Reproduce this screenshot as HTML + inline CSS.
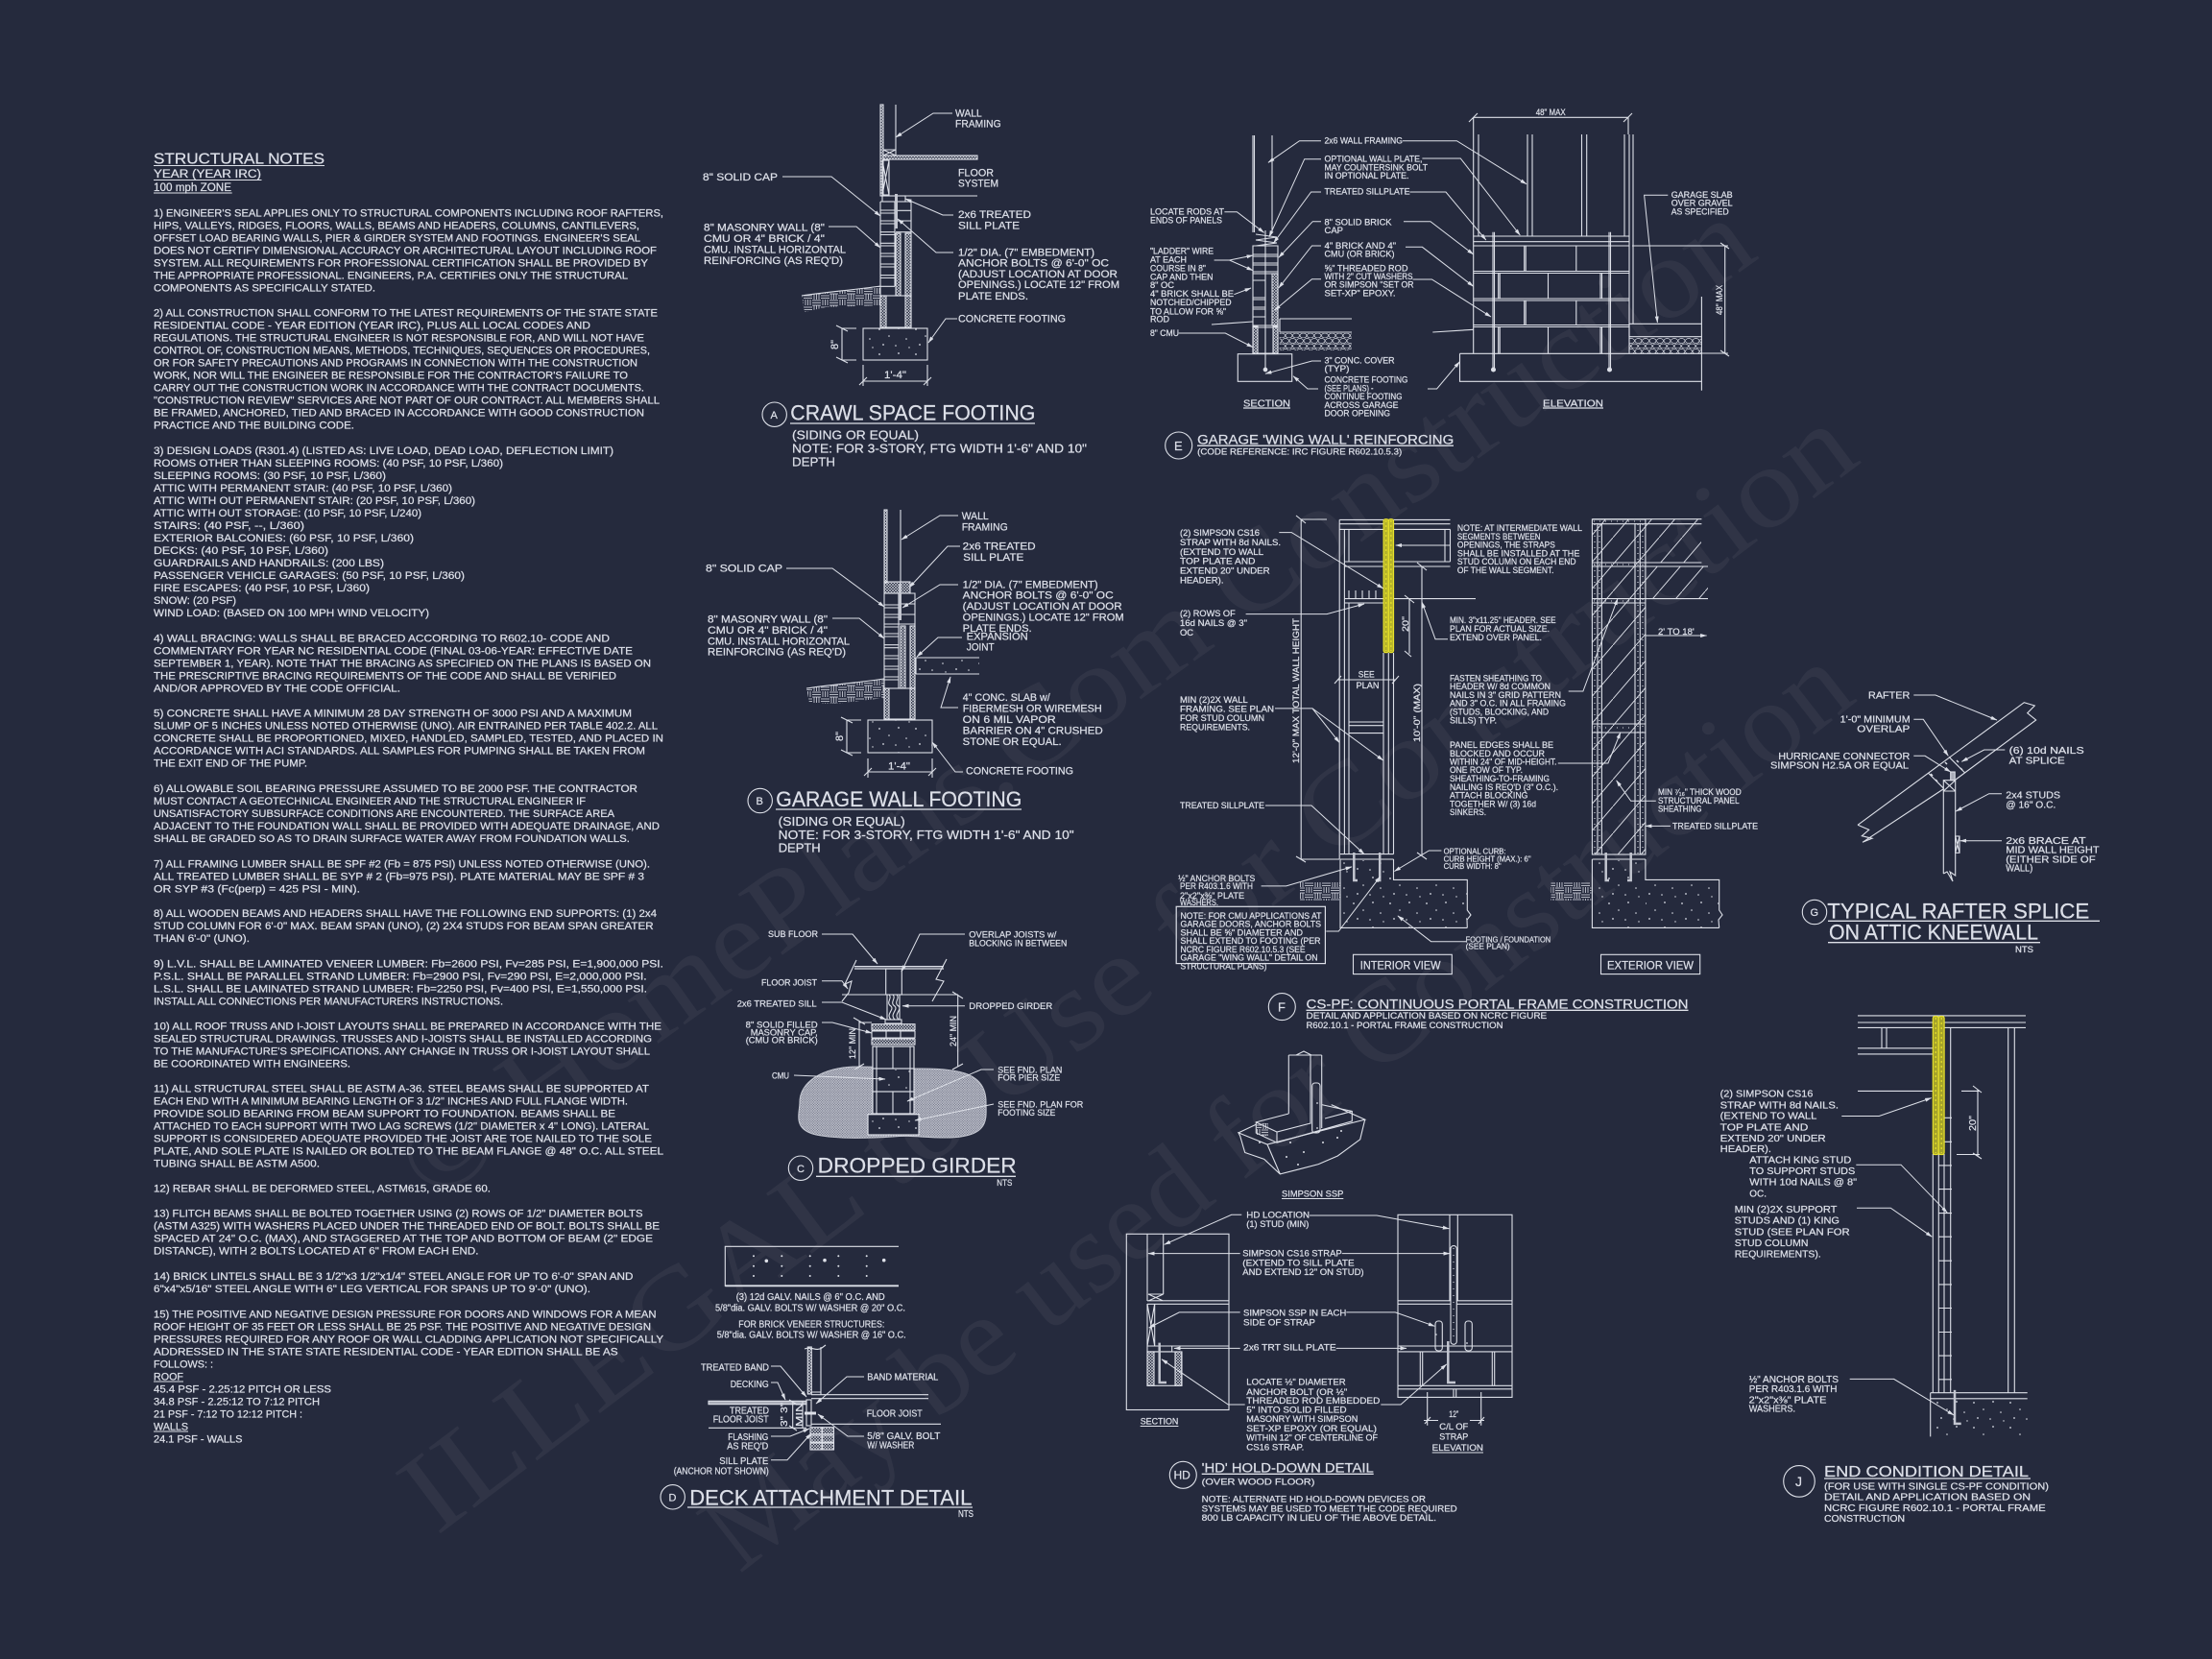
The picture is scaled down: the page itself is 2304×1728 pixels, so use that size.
<!DOCTYPE html>
<html><head><meta charset="utf-8"><title>Structural Notes and Details</title>
<style>html,body{margin:0;padding:0;background:#252a3d}svg{display:block}text{font-family:"Liberation Sans",sans-serif;fill:#dcdfe8;stroke:#dcdfe8;stroke-width:.25}.wm text{font-family:"Liberation Serif",serif;fill:#fff;fill-opacity:.05;stroke:none}</style></head>
<body>
<svg xmlns="http://www.w3.org/2000/svg" width="2304" height="1728" viewBox="0 0 2304 1728">
<defs>
<pattern id="h" width="3" height="3" patternUnits="userSpaceOnUse"><path d="M0 3L3 0M0 0L3 3" stroke="#dde0e8" stroke-width=".6"/></pattern>
<pattern id="x" width="2.6" height="2.6" patternUnits="userSpaceOnUse"><rect width="2.6" height="2.6" fill="#6d7082"/><path d="M0 2.6L2.6 0M0 0L2.6 2.6" stroke="#d0d3dc" stroke-width=".55"/></pattern>
<pattern id="e" width="18" height="12" patternUnits="userSpaceOnUse"><path d="M0 1H9M0 3.5H9M0 6H9M11 0V6M13.5 0V6M16 0V6M2 6V12M4.5 6V12M7 6V12M9 8H18M9 10.500H18" stroke="#e4e6ee" stroke-width=".75" fill="none"/></pattern>
<pattern id="d" width="38" height="26" patternUnits="userSpaceOnUse"><g fill="#dde0e8"><circle cx="4" cy="5" r=".9"/><circle cx="14" cy="12" r=".8"/><circle cx="24" cy="4" r=".9"/><circle cx="32" cy="15" r=".8"/><circle cx="8" cy="21" r=".9"/><circle cx="21" cy="22" r=".8"/><circle cx="35" cy="24" r=".7"/></g></pattern>
<pattern id="g" width="15" height="11" patternUnits="userSpaceOnUse"><g fill="none" stroke="#dde0e8" stroke-width=".7"><ellipse cx="4" cy="3" rx="3.500" ry="2.500"/><ellipse cx="11.500" cy="3" rx="3.500" ry="2.500"/><ellipse cx="0" cy="8.500" rx="3.500" ry="2.500"/><ellipse cx="7.500" cy="8.500" rx="3.500" ry="2.500"/><ellipse cx="15" cy="8.500" rx="3.500" ry="2.500"/></g></pattern>
<pattern id="s" width="24" height="28" patternUnits="userSpaceOnUse"><path d="M0 28L24 0" stroke="#dde0e8" stroke-width=".9"/></pattern>
<marker id="a" markerWidth="7" markerHeight="5" refX="6.500" refY="2.500" orient="auto" markerUnits="userSpaceOnUse"><path d="M0 .5L7 2.500L0 4.500z" fill="#dde0e8"/></marker>
</defs>
<rect width="2304" height="1728" fill="#252a3d"/>

<g class="wm" font-size="120">
<text transform="translate(450 1255) rotate(-35.500)" textLength="1700" lengthAdjust="spacingAndGlyphs">© HomePlans.Com Construction</text>
<text transform="translate(455 1600) rotate(-37)" textLength="1860" lengthAdjust="spacingAndGlyphs">ILLEGAL to Use for Construction</text>
<text transform="translate(770 1640) rotate(-38)" textLength="1480" lengthAdjust="spacingAndGlyphs">May be used for Construction</text>
</g>

<!-- STRUCTURAL NOTES -->
<g font-size="10.800">
<text x="160" y="170.700" font-size="15.500" textLength="178" lengthAdjust="spacingAndGlyphs">STRUCTURAL NOTES</text>
<text x="160" y="185" font-size="11.500" textLength="112" lengthAdjust="spacingAndGlyphs">YEAR  (YEAR IRC)</text>
<text x="160" y="199" font-size="11.500" textLength="81" lengthAdjust="spacingAndGlyphs">100 mph ZONE</text>
<text x="160" y="225.300" textLength="531" lengthAdjust="spacingAndGlyphs">1) ENGINEER'S SEAL APPLIES ONLY TO STRUCTURAL COMPONENTS INCLUDING ROOF RAFTERS,</text>
<text x="160" y="238.300" textLength="506" lengthAdjust="spacingAndGlyphs">HIPS, VALLEYS, RIDGES, FLOORS, WALLS, BEAMS AND HEADERS, COLUMNS, CANTILEVERS,</text>
<text x="160" y="251.300" textLength="507" lengthAdjust="spacingAndGlyphs">OFFSET LOAD BEARING WALLS, PIER &amp; GIRDER SYSTEM AND FOOTINGS. ENGINEER'S SEAL</text>
<text x="160" y="264.300" textLength="524" lengthAdjust="spacingAndGlyphs">DOES NOT CERTIFY DIMENSIONAL ACCURACY OR ARCHITECTURAL LAYOUT INCLUDING ROOF</text>
<text x="160" y="277.300" textLength="515" lengthAdjust="spacingAndGlyphs">SYSTEM. ALL REQUIREMENTS FOR PROFESSIONAL CERTIFICATION SHALL BE PROVIDED BY</text>
<text x="160" y="290.300" textLength="494" lengthAdjust="spacingAndGlyphs">THE APPROPRIATE PROFESSIONAL.  ENGINEERS, P.A. CERTIFIES ONLY THE STRUCTURAL</text>
<text x="160" y="303.300" textLength="231" lengthAdjust="spacingAndGlyphs">COMPONENTS AS SPECIFICALLY STATED.</text>
<text x="160" y="329.300" textLength="525" lengthAdjust="spacingAndGlyphs">2) ALL CONSTRUCTION SHALL CONFORM TO THE LATEST REQUIREMENTS OF THE STATE STATE</text>
<text x="160" y="342.300" textLength="455" lengthAdjust="spacingAndGlyphs">RESIDENTIAL CODE - YEAR EDITION (YEAR IRC), PLUS ALL LOCAL CODES AND</text>
<text x="160" y="355.300" textLength="511" lengthAdjust="spacingAndGlyphs">REGULATIONS. THE STRUCTURAL ENGINEER IS NOT RESPONSIBLE FOR, AND WILL NOT HAVE</text>
<text x="160" y="368.300" textLength="517" lengthAdjust="spacingAndGlyphs">CONTROL OF, CONSTRUCTION MEANS, METHODS, TECHNIQUES, SEQUENCES OR PROCEDURES,</text>
<text x="160" y="381.300" textLength="504" lengthAdjust="spacingAndGlyphs">OR FOR SAFETY PRECAUTIONS AND PROGRAMS IN CONNECTION WITH THE CONSTRUCTION</text>
<text x="160" y="394.300" textLength="494" lengthAdjust="spacingAndGlyphs">WORK, NOR WILL THE ENGINEER BE RESPONSIBLE FOR THE CONTRACTOR'S FAILURE TO</text>
<text x="160" y="407.300" textLength="511" lengthAdjust="spacingAndGlyphs">CARRY OUT THE CONSTRUCTION WORK IN ACCORDANCE WITH THE CONTRACT DOCUMENTS.</text>
<text x="160" y="420.300" textLength="527" lengthAdjust="spacingAndGlyphs">"CONSTRUCTION REVIEW" SERVICES ARE NOT PART OF OUR CONTRACT. ALL MEMBERS SHALL</text>
<text x="160" y="433.300" textLength="511" lengthAdjust="spacingAndGlyphs">BE FRAMED, ANCHORED, TIED AND BRACED IN ACCORDANCE WITH GOOD CONSTRUCTION</text>
<text x="160" y="446.300" textLength="209" lengthAdjust="spacingAndGlyphs">PRACTICE AND THE BUILDING CODE.</text>
<text x="160" y="473" textLength="479" lengthAdjust="spacingAndGlyphs">3) DESIGN LOADS (R301.4) (LISTED AS: LIVE LOAD, DEAD LOAD, DEFLECTION LIMIT)</text>
<text x="160" y="486" textLength="364" lengthAdjust="spacingAndGlyphs">ROOMS OTHER THAN SLEEPING ROOMS: (40 PSF, 10 PSF, L/360)</text>
<text x="160" y="499" textLength="242" lengthAdjust="spacingAndGlyphs">SLEEPING ROOMS: (30 PSF, 10 PSF, L/360)</text>
<text x="160" y="512" textLength="311" lengthAdjust="spacingAndGlyphs">ATTIC WITH PERMANENT STAIR: (40 PSF, 10 PSF, L/360)</text>
<text x="160" y="525" textLength="335" lengthAdjust="spacingAndGlyphs">ATTIC WITH OUT PERMANENT STAIR: (20 PSF, 10 PSF, L/360)</text>
<text x="160" y="538" textLength="279" lengthAdjust="spacingAndGlyphs">ATTIC WITH OUT STORAGE: (10 PSF, 10 PSF, L/240)</text>
<text x="160" y="551" textLength="157" lengthAdjust="spacingAndGlyphs">STAIRS: (40 PSF, --, L/360)</text>
<text x="160" y="564" textLength="271" lengthAdjust="spacingAndGlyphs">EXTERIOR BALCONIES: (60 PSF, 10 PSF, L/360)</text>
<text x="160" y="577" textLength="182" lengthAdjust="spacingAndGlyphs">DECKS: (40 PSF, 10 PSF, L/360)</text>
<text x="160" y="590" textLength="240" lengthAdjust="spacingAndGlyphs">GUARDRAILS AND HANDRAILS: (200 LBS)</text>
<text x="160" y="603" textLength="324" lengthAdjust="spacingAndGlyphs">PASSENGER VEHICLE GARAGES: (50 PSF, 10 PSF, L/360)</text>
<text x="160" y="616" textLength="225" lengthAdjust="spacingAndGlyphs">FIRE ESCAPES: (40 PSF, 10 PSF, L/360)</text>
<text x="160" y="629" textLength="86" lengthAdjust="spacingAndGlyphs">SNOW: (20 PSF)</text>
<text x="160" y="642" textLength="287" lengthAdjust="spacingAndGlyphs">WIND LOAD: (BASED ON 100 MPH WIND VELOCITY)</text>
<text x="160" y="668.700" textLength="475" lengthAdjust="spacingAndGlyphs">4) WALL BRACING: WALLS SHALL BE BRACED ACCORDING TO R602.10- CODE AND</text>
<text x="160" y="681.700" textLength="499" lengthAdjust="spacingAndGlyphs">COMMENTARY FOR YEAR NC RESIDENTIAL CODE (FINAL 03-06-YEAR: EFFECTIVE DATE</text>
<text x="160" y="694.700" textLength="518" lengthAdjust="spacingAndGlyphs">SEPTEMBER 1, YEAR). NOTE THAT THE BRACING AS SPECIFIED ON THE PLANS IS BASED ON</text>
<text x="160" y="707.700" textLength="482" lengthAdjust="spacingAndGlyphs">THE PRESCRIPTIVE BRACING REQUIREMENTS OF THE CODE AND SHALL BE VERIFIED</text>
<text x="160" y="720.700" textLength="257" lengthAdjust="spacingAndGlyphs">AND/OR APPROVED BY THE CODE OFFICIAL.</text>
<text x="160" y="746.700" textLength="498" lengthAdjust="spacingAndGlyphs">5) CONCRETE SHALL HAVE A MINIMUM 28 DAY STRENGTH OF 3000 PSI AND A MAXIMUM</text>
<text x="160" y="759.700" textLength="525" lengthAdjust="spacingAndGlyphs">SLUMP OF 5 INCHES UNLESS NOTED OTHERWISE (UNO). AIR ENTRAINED PER TABLE 402.2. ALL</text>
<text x="160" y="772.700" textLength="531" lengthAdjust="spacingAndGlyphs">CONCRETE SHALL BE PROPORTIONED, MIXED, HANDLED, SAMPLED, TESTED, AND PLACED IN</text>
<text x="160" y="785.700" textLength="512" lengthAdjust="spacingAndGlyphs">ACCORDANCE WITH ACI STANDARDS. ALL SAMPLES FOR PUMPING SHALL BE TAKEN FROM</text>
<text x="160" y="798.700" textLength="160" lengthAdjust="spacingAndGlyphs">THE EXIT END OF THE PUMP.</text>
<text x="160" y="825" textLength="504" lengthAdjust="spacingAndGlyphs">6) ALLOWABLE SOIL BEARING PRESSURE ASSUMED TO BE 2000 PSF. THE CONTRACTOR</text>
<text x="160" y="838" textLength="450" lengthAdjust="spacingAndGlyphs">MUST CONTACT A GEOTECHNICAL ENGINEER AND THE STRUCTURAL ENGINEER IF</text>
<text x="160" y="851" textLength="480" lengthAdjust="spacingAndGlyphs">UNSATISFACTORY SUBSURFACE CONDITIONS ARE ENCOUNTERED. THE SURFACE AREA</text>
<text x="160" y="864" textLength="527" lengthAdjust="spacingAndGlyphs">ADJACENT TO THE FOUNDATION WALL SHALL BE PROVIDED WITH ADEQUATE DRAINAGE, AND</text>
<text x="160" y="877" textLength="496" lengthAdjust="spacingAndGlyphs">SHALL BE GRADED SO AS TO DRAIN SURFACE WATER AWAY FROM FOUNDATION WALLS.</text>
<text x="160" y="903.300" textLength="517" lengthAdjust="spacingAndGlyphs">7) ALL FRAMING LUMBER SHALL BE SPF #2 (Fb = 875 PSI) UNLESS NOTED OTHERWISE (UNO).</text>
<text x="160" y="916.300" textLength="511" lengthAdjust="spacingAndGlyphs">ALL TREATED LUMBER SHALL BE SYP # 2 (Fb=975 PSI). PLATE MATERIAL MAY BE SPF # 3</text>
<text x="160" y="929.300" textLength="215" lengthAdjust="spacingAndGlyphs">OR SYP #3 (Fc(perp) = 425 PSI - MIN).</text>
<text x="160" y="955" textLength="524" lengthAdjust="spacingAndGlyphs">8) ALL WOODEN BEAMS AND HEADERS SHALL HAVE THE FOLLOWING END SUPPORTS: (1) 2x4</text>
<text x="160" y="968" textLength="520.600" lengthAdjust="spacingAndGlyphs">STUD COLUMN FOR 6'-0" MAX. BEAM SPAN (UNO), (2) 2X4 STUDS FOR BEAM SPAN GREATER</text>
<text x="160" y="981" textLength="100" lengthAdjust="spacingAndGlyphs">THAN 6'-0" (UNO).</text>
<text x="160" y="1007.300" textLength="531" lengthAdjust="spacingAndGlyphs">9) L.V.L.  SHALL BE LAMINATED VENEER LUMBER: Fb=2600 PSI, Fv=285 PSI, E=1,900,000 PSI.</text>
<text x="160" y="1020.300" textLength="513.600" lengthAdjust="spacingAndGlyphs">P.S.L. SHALL BE PARALLEL STRAND LUMBER: Fb=2900 PSI, Fv=290 PSI, E=2,000,000 PSI.</text>
<text x="160" y="1033.300" textLength="514" lengthAdjust="spacingAndGlyphs">L.S.L.  SHALL BE LAMINATED STRAND LUMBER: Fb=2250 PSI, Fv=400 PSI, E=1,550,000 PSI.</text>
<text x="160" y="1046.300" textLength="364" lengthAdjust="spacingAndGlyphs">INSTALL ALL CONNECTIONS PER MANUFACTURERS INSTRUCTIONS.</text>
<text x="160" y="1072.700" textLength="529" lengthAdjust="spacingAndGlyphs">10) ALL ROOF TRUSS AND I-JOIST LAYOUTS SHALL BE PREPARED IN ACCORDANCE WITH THE</text>
<text x="160" y="1085.700" textLength="519" lengthAdjust="spacingAndGlyphs">SEALED STRUCTURAL DRAWINGS. TRUSSES AND I-JOISTS SHALL BE INSTALLED ACCORDING</text>
<text x="160" y="1098.700" textLength="517" lengthAdjust="spacingAndGlyphs">TO THE MANUFACTURE'S SPECIFICATIONS. ANY CHANGE IN TRUSS OR I-JOIST LAYOUT SHALL</text>
<text x="160" y="1111.700" textLength="205" lengthAdjust="spacingAndGlyphs">BE COORDINATED WITH  ENGINEERS.</text>
<text x="160" y="1137.700" textLength="516" lengthAdjust="spacingAndGlyphs">11) ALL STRUCTURAL STEEL SHALL BE ASTM A-36. STEEL BEAMS SHALL BE SUPPORTED AT</text>
<text x="160" y="1150.700" textLength="494" lengthAdjust="spacingAndGlyphs">EACH END WITH A MINIMUM BEARING LENGTH OF 3 1/2" INCHES AND FULL FLANGE WIDTH.</text>
<text x="160" y="1163.700" textLength="481" lengthAdjust="spacingAndGlyphs">PROVIDE SOLID BEARING FROM BEAM SUPPORT TO FOUNDATION.  BEAMS SHALL BE</text>
<text x="160" y="1176.700" textLength="516" lengthAdjust="spacingAndGlyphs">ATTACHED TO EACH SUPPORT WITH TWO LAG SCREWS (1/2" DIAMETER x 4" LONG). LATERAL</text>
<text x="160" y="1189.700" textLength="519" lengthAdjust="spacingAndGlyphs">SUPPORT IS CONSIDERED ADEQUATE PROVIDED THE JOIST ARE TOE NAILED TO THE SOLE</text>
<text x="160" y="1202.700" textLength="531" lengthAdjust="spacingAndGlyphs">PLATE, AND SOLE PLATE IS NAILED OR BOLTED TO THE BEAM FLANGE @ 48" O.C. ALL STEEL</text>
<text x="160" y="1215.700" textLength="173" lengthAdjust="spacingAndGlyphs">TUBING SHALL BE ASTM A500.</text>
<text x="160" y="1241.700" textLength="351" lengthAdjust="spacingAndGlyphs">12) REBAR SHALL BE DEFORMED STEEL, ASTM615, GRADE 60.</text>
<text x="160" y="1267.700" textLength="509.500" lengthAdjust="spacingAndGlyphs">13) FLITCH BEAMS SHALL BE BOLTED TOGETHER USING (2) ROWS OF 1/2" DIAMETER BOLTS</text>
<text x="160" y="1280.700" textLength="527" lengthAdjust="spacingAndGlyphs">(ASTM A325) WITH WASHERS PLACED UNDER THE THREADED END OF BOLT. BOLTS SHALL BE</text>
<text x="160" y="1293.700" textLength="520" lengthAdjust="spacingAndGlyphs">SPACED AT 24" O.C. (MAX), AND STAGGERED AT THE TOP AND BOTTOM OF BEAM (2" EDGE</text>
<text x="160" y="1306.700" textLength="338.500" lengthAdjust="spacingAndGlyphs">DISTANCE), WITH 2 BOLTS LOCATED AT 6" FROM EACH END.</text>
<text x="160" y="1333" textLength="499.500" lengthAdjust="spacingAndGlyphs">14) BRICK LINTELS SHALL BE 3 1/2"x3 1/2"x1/4" STEEL ANGLE FOR UP TO 6'-0" SPAN AND</text>
<text x="160" y="1346" textLength="455" lengthAdjust="spacingAndGlyphs">6"x4"x5/16" STEEL ANGLE WITH 6" LEG VERTICAL FOR SPANS UP TO 9'-0" (UNO).</text>
<text x="160" y="1372.300" textLength="523.500" lengthAdjust="spacingAndGlyphs">15) THE POSITIVE AND NEGATIVE DESIGN PRESSURE FOR DOORS AND WINDOWS FOR A MEAN</text>
<text x="160" y="1385.300" textLength="518" lengthAdjust="spacingAndGlyphs">ROOF HEIGHT OF 35 FEET OR LESS SHALL BE 25 PSF. THE POSITIVE AND NEGATIVE DESIGN</text>
<text x="160" y="1398.300" textLength="531" lengthAdjust="spacingAndGlyphs">PRESSURES REQUIRED FOR ANY ROOF OR WALL CLADDING APPLICATION NOT SPECIFICALLY</text>
<text x="160" y="1411.300" textLength="483.600" lengthAdjust="spacingAndGlyphs">ADDRESSED IN THE STATE STATE RESIDENTIAL CODE - YEAR EDITION SHALL BE AS</text>
<text x="160" y="1424.300" textLength="62" lengthAdjust="spacingAndGlyphs">FOLLOWS: :</text>
<text x="160" y="1437.300" textLength="31" lengthAdjust="spacingAndGlyphs">ROOF</text>
<text x="160" y="1450.300" textLength="185" lengthAdjust="spacingAndGlyphs">45.4 PSF - 2.25:12 PITCH OR LESS</text>
<text x="160" y="1463.300" textLength="173" lengthAdjust="spacingAndGlyphs">34.8 PSF - 2.25:12 TO 7:12 PITCH</text>
<text x="160" y="1476.300" textLength="155" lengthAdjust="spacingAndGlyphs">21 PSF - 7:12 TO 12:12 PITCH :</text>
<text x="160" y="1489.300" textLength="36" lengthAdjust="spacingAndGlyphs">WALLS</text>
<text x="160" y="1502.300" textLength="92.500" lengthAdjust="spacingAndGlyphs">24.1 PSF - WALLS</text>
</g>
<path d="M160 172.500H338M160 187.500H272.500M160 201H241.700M160 1439H191M160 1491H196" stroke="#dde0e8" fill="none"/>

<!-- drawing geometry -->
<g fill="none" stroke="#dde0e8" stroke-width="1.100">
<!-- A -->
<rect x="917" y="109" width="3" height="95" fill="url(#h)"/>
<path d="M933 109V162M920 156H933M920 162L933 156M920 156L933 162"/>
<rect x="920" y="162" width="98" height="4" fill="url(#h)"/>
<rect x="919" y="167" width="7" height="36"/><path d="M919 167L926 203M926 167L919 203M933 204H1018"/>
<rect x="919" y="204" width="24" height="6"/>
<path d="M917 210H949V308M917 210V308M932 210V298M917 219H932M917 222H932M917 230H932M917 233H932M917 241.700H932M917 244.500H932M917 253.300H932M917 256H932M917 264H932M917 267H932M917 275H932M917 278H932M917 286.700H932M917 289.500H932M917 298.300H932M933 219.300H949M933 230H949M933 241.700H949"/>
<rect x="933" y="243" width="5" height="65" fill="url(#h)"/><rect x="943" y="243" width="6" height="65" fill="url(#h)"/>
<path d="M933.500 202V238" stroke="#c3c6d0" stroke-width="3"/>
<rect x="917" y="308" width="32" height="33"/><rect x="917" y="308" width="6" height="33" fill="url(#h)"/><rect x="943" y="308" width="6" height="33" fill="url(#h)"/>
<rect x="899" y="342" width="67" height="33" fill="url(#d)"/>
<path d="M835 308L917 298V318L860 320L838 325Z" fill="url(#e)" stroke="none"/><path d="M835 308C860 304 890 302 917 298"/>
<path d="M877 342V375M871 339L883 345M871 372L883 378M877 342H892M877 375H892M899 380V402M966 380V402M899 397H966M895 401L903 393M962 401L970 393"/>
<!-- B -->
<rect x="921" y="531" width="3" height="76" fill="url(#h)"/>
<path d="M938 531V610"/><rect x="921" y="606" width="27" height="12" fill="url(#h)"/>
<path d="M921 618H953V717M921 618V717M936 618V717M921 630H936M921 633H936M921 640H936M921 643H936M921 650H936M921 653H936M921 660H936M921 663H936M921 671.700H936M921 674.700H936M921 683H936M921 686H936M921 694H936M921 697H936M921 705H936M921 708H936M936 629H953M936 640H953M936 650H953"/>
<rect x="938" y="652" width="5" height="65" fill="url(#h)"/><rect x="948" y="652" width="5" height="65" fill="url(#h)"/>
<path d="M937.500 608V646" stroke="#c3c6d0" stroke-width="3"/>
<rect x="921" y="717" width="32" height="32"/><rect x="921" y="717" width="5" height="32" fill="url(#h)"/><rect x="948" y="717" width="5" height="32" fill="url(#h)"/>
<rect x="904" y="750" width="67" height="34" fill="url(#d)"/>
<path d="M954 685H1020M954 702H1020M954 685V702"/><rect x="955" y="686" width="65" height="15" fill="url(#d)" stroke="none"/>
<path d="M840 717L921 707V727L870 733L843 732Z" fill="url(#e)" stroke="none"/><path d="M840 717C865 713 895 711 921 707"/>
<path d="M882 750V784M876 747L888 753M876 781L888 787M882 750H897M882 784H897M904 790V810M971 790V810M904 804H971M900 808L908 800M967 808L975 800"/>
<!-- C -->
<path d="M890 1006.700H983M890 1009H983" stroke-width="1.300"/>
<path d="M877 1036H983M892 1000L880 1025L887 1022L884 1034L877 1043M986 999L975 1020L983 1022L976 1034L971 1043"/>
<rect x="922.700" y="1009" width="16.600" height="27"/>
<path d="M926 1036C930 1040 922 1044 928 1048C932 1052 922 1056 928 1062M930 1036C934 1040 926 1044 932 1048C936 1052 926 1056 932 1062M934 1036C938 1040 930 1044 936 1048C940 1052 930 1056 936 1062"/>
<path d="M924 1036V1062M937 1036V1062"/>
<rect x="922" y="1062" width="17" height="4"/>
<path d="M833 1148C833 1128 855 1111 895 1111C925 1111 930 1113 960 1113C1000 1113 1027 1118 1027 1148C1027 1165 1032 1185 985 1185C960 1185 950 1182 930 1184C900 1186 870 1186 850 1182C825 1176 833 1160 833 1148Z" fill="url(#x)" stroke="#c3c6d0"/>
<rect x="909" y="1090" width="43" height="70" fill="#252a3d"/>
<rect x="908" y="1066.700" width="45" height="6.300" fill="url(#h)"/>
<path d="M908 1074H953M908 1081H953M908 1074V1081M953 1074V1081M923 1074V1081M938 1074V1081"/>
<rect x="908" y="1082" width="45" height="6" fill="url(#h)"/>
<rect x="909" y="1090" width="43" height="23"/><rect x="909" y="1113" width="43" height="24"/><rect x="909" y="1137" width="43" height="23"/>
<path d="M930 1090V1113M930 1137V1160M913 1090V1160M948 1090V1160"/>
<rect x="904" y="1160.700" width="53" height="21.300" fill="#252a3d"/><rect x="904" y="1160.700" width="53" height="21.300" fill="url(#d)"/>
<rect x="909" y="1114" width="43" height="22" fill="url(#d)" stroke="none"/>
<path d="M895 1063V1111M889 1060L901 1067M890 1114L900 1108M895 1065H908M997.700 1036V1111M992 1033L1003 1040M992 1114L1003 1108M977 1036H998"/>
<!-- D -->
<path d="M936 1298.300H755.300V1339.300H936" /><path d="M755.300 1339.300H936" stroke-width="1.800"/>
<rect x="841.300" y="1403" width="4" height="49" fill="url(#h)"/>
<path d="M855 1403V1453M838 1405C845 1402 850 1408 856 1404L860 1401"/>
<path d="M845 1450H855M845 1452.700H967M845 1456.700H967M845 1483.300H980M738 1487.300H840"/>
<rect x="738" y="1459.300" width="102" height="3.400" fill="#a8abb7"/>
<rect x="840" y="1458" width="5" height="27"/><path d="M838 1472H850" stroke-width="3"/>
<rect x="844" y="1486.700" width="12" height="7" fill="url(#h)"/><rect x="856.500" y="1486.700" width="12" height="7" fill="url(#h)"/><rect x="844" y="1495" width="12" height="7" fill="url(#h)"/><rect x="856.500" y="1495" width="12" height="7" fill="url(#h)"/><rect x="844" y="1503" width="12" height="7" fill="url(#h)"/><rect x="856.500" y="1503" width="12" height="7" fill="url(#h)"/>
<path d="M825.700 1460V1487M836 1460V1487M822 1458L830 1463M822 1485L830 1490"/>
<!-- E section -->
<path d="M1305 141V242M1306.500 141V242M1325 141V242"/>
<path d="M1308 244L1330 247L1308 250L1330 253L1308 256"/>
<path d="M1305 256H1331V368H1305ZM1318 240V385M1305 265H1331M1305 267H1331M1305 274H1331M1305 276H1331M1305 283H1331M1305 285H1331M1305 292H1318M1305 310H1318M1305 312H1318M1305 320H1318M1305 322H1318M1305 330H1318M1305 339H1331M1305 341H1331" />
<rect x="1325" y="285" width="6" height="54" fill="url(#h)"/>
<rect x="1305" y="340" width="5" height="28" fill="url(#h)"/><rect x="1326" y="340" width="5" height="28" fill="url(#h)"/>
<rect x="1289.300" y="368.700" width="56.400" height="28.600"/>
<circle cx="1318" cy="385" r="1.800" fill="#dde0e8"/>
<path d="M1333 332H1408M1333 332V346M1333 346H1408M1262 338L1305 335"/>
<rect x="1332.700" y="347" width="75" height="18" fill="url(#g)" stroke="none"/>
<!-- E elevation -->
<path d="M1534.700 140V368M1540 140V246M1591 140V246M1596 140V246M1647.500 140V246M1652.700 140V246M1692 140V246M1697 140V368M1701 140V337"/>
<path d="M1534.700 246H1697M1534.700 251.700H1697M1534.700 256H1697M1534.700 282.500H1697M1534.700 284.500H1697M1534.700 311H1697M1534.700 313H1697M1534.700 338.500H1697M1534.700 340.500H1697"/>
<path d="M1587.700 256V283M1589.200 256V283M1641.800 256V283M1560.700 284V311M1562.200 284V311M1612.500 284V311M1667 284V311M1668.500 284V311M1587.700 313V339M1589.200 313V339M1641.800 313V339M1560.700 340V368M1562.200 340V368M1612.500 340V368M1667 340V368M1668.500 340V368"/>
<path d="M1555 241.700V385M1556.500 241.700V385M1676 241.700V385M1677.500 241.700V385"/>
<circle cx="1555.500" cy="385" r="2" fill="#dde0e8"/><circle cx="1676.500" cy="385" r="2" fill="#dde0e8"/>
<path d="M1520.500 368.300H1772.400M1520.500 368.300V397.300H1772.400M1772.400 309V406.700M1697 337.300H1772.400M1697 350.700H1772.400M1697 337.300V350.700" />
<rect x="1697" y="352" width="75" height="16" fill="url(#g)" stroke="none"/>
<path d="M1534.700 122.300H1696M1534.700 122.300V140M1696 122.300V140M1530 127L1539 118M1691 127L1700 118M1796.700 256V368M1700 256H1800M1772 368H1800M1792 253L1801 259M1792 365L1801 371M1492.300 346L1534.700 343.300"/>
<!-- F interior -->
<path d="M1395.200 541.400V895M1400.400 551V889.600M1405 628V889.600M1441 680V889.600M1446.300 680V889.600M1451.500 680V889.600M1395.200 541.400H1510.500M1395.200 545.700H1510.500M1395.200 551.400H1510.500M1400.400 585H1510.500M1400.400 590H1510.500M1405 551.400V585M1505 551.400V585M1510.500 551.400V585M1400.400 623.600H1537M1400.400 628H1441M1405 752H1441M1405 755.700H1441M1405 763.600H1441M1396 889.600H1451.500M1396 895H1451.500M1396 895V966.400H1528.300M1451.500 895V916.400H1528.300V948L1532 953L1528 958L1528.300 966.400"/>
<path d="M1405 623V615M1412 623V615M1419 623V615M1426 623V615M1433 623V615"/>
<rect x="1397" y="896" width="54" height="70" fill="url(#d)" stroke="none"/><rect x="1451" y="917" width="77" height="49" fill="url(#d)" stroke="none"/>
<path d="M1410.300 888V917H1414M1437.200 888V917H1433" stroke="#c3c6d0" stroke-width="2.500"/>
<rect x="1354" y="919" width="42" height="19" fill="url(#e)" stroke="none"/>
<path d="M1355.200 540.700V895M1350 537L1360 545M1350 892L1360 898M1355 541H1382M1355 895H1395M1468 623.600V680.700M1463 620L1473 628M1463 678L1470 684M1481 590V891.400M1476 586L1486 594M1476 888L1486 895M1393 708H1453M1390 712L1397 704M1450 712L1457 704"/>
<!-- F exterior -->
<rect x="1658.400" y="541" width="55.500" height="349" fill="url(#s)"/>
<rect x="1714" y="541" width="58" height="45" fill="url(#s)" stroke="none"/><rect x="1714" y="590" width="65" height="34" fill="url(#s)" stroke="none"/>
<path d="M1658.400 540.700H1772.400M1658.400 545.700H1772.400M1658.400 586H1772.400M1658.400 590H1779M1658.400 623.600H1779M1658.400 628H1713.900M1664 545V890M1668.400 545V890M1703 545V890M1708.300 545V890M1658.400 754H1713.900M1658.400 763H1713.900M1658.400 890H1713.900M1658.400 895H1713.900M1658.400 895V966.400H1790.700M1713.900 895V916.400H1790.700V948L1794 953L1790 958L1790.700 966.400"/>
<path d="M1661 546V889M1666 546V889M1706 546V889M1711 546V889M1660 543H1712M1660 588H1712M1660 626H1712M1660 758H1712" stroke-dasharray="1 5"/>
<rect x="1659" y="896" width="54" height="70" fill="url(#d)" stroke="none"/><rect x="1714" y="917" width="76" height="49" fill="url(#d)" stroke="none"/>
<path d="M1672.700 888V917H1676M1698.700 888V917H1695" stroke="#c3c6d0" stroke-width="2.500"/>
<rect x="1615.500" y="919" width="42" height="19" fill="url(#e)" stroke="none"/>
<rect x="1409.500" y="994.300" width="102.800" height="20.300"/><rect x="1667.500" y="994.300" width="103.200" height="20.300"/>
<rect x="1225.200" y="944.300" width="155.200" height="59.300" stroke-width="1.200"/>
<!-- G -->
<path d="M1935 859.300L2108.300 731.700L2119.300 735L2111.700 742.700L2120.700 750L2037 812M2024 822L1940 877.300L1950 873.300L1939.300 870.700L1946.700 864.300L1935 859.300M2008.300 805L2025 821.700M2030 788.300L2046.700 805M2024.300 813V910M2036.700 813V912L2031 908L2034 918L2028 908L2024.300 910M2024.300 812.700H2036.700V824H2024.300ZM2024.300 812.700L2036.700 824M2036.700 812.700L2024.300 824"/>
<rect x="2036.700" y="871" width="4.300" height="17.300"/><path d="M2036.700 871L2041 888.300M2041 871L2036.700 888.300"/>
<rect x="2031.700" y="804" width="4.500" height="8.700" fill="#a8abb7"/>
<path d="M2026 794L2028 796M2038 792L2040 794M2042 800L2044 802M2011 806L2013 808M2016 812L2018 814" stroke-width="1.500"/>
<!-- SSP -->
<path d="M1342.300 1099V1160M1365 1099V1170.600M1376.700 1099V1175M1342.300 1099H1376.700M1350 1099L1358 1095L1366 1099"/>
<rect x="1366.700" y="1128" width="8.300" height="52" rx="3" fill="url(#d)"/>
<path d="M1308.300 1168.900L1342.300 1160M1376.700 1150.600L1408.300 1157.500V1167.800L1330 1190.200L1308.300 1180V1168.900L1330 1179L1365 1170M1330 1179V1190.200M1408.300 1157.500L1380 1165"/>
<rect x="1309" y="1170" width="12" height="13" fill="url(#e)" stroke="none"/>
<path d="M1290 1179.900L1308.300 1171.300M1386.700 1150.600L1421.700 1166.100L1320 1192L1290 1179.900L1291.700 1183.300L1296.700 1200.500L1316.700 1207.400L1333.300 1222.900L1353.300 1217.800L1373.300 1212.600L1393.300 1204L1416.700 1186.800L1421.700 1166.100M1320 1192L1333.300 1222.900"/>
<path d="M1335 1248.500H1399.300"/>
<g fill="#dde0e8" stroke="none"><circle cx="1340" cy="1205" r="1"/><circle cx="1358" cy="1200" r="1"/><circle cx="1378" cy="1190" r="1"/><circle cx="1344" cy="1190" r="1"/><circle cx="1393" cy="1185" r="1"/><circle cx="1397" cy="1178" r="1"/><circle cx="1312" cy="1190" r="1"/><circle cx="1352" cy="1213" r="1"/></g>
<!-- HD -->
<rect x="1173.300" y="1285.300" width="106.700" height="183.200"/>
<path d="M1195 1285V1355M1211.700 1285V1348M1196 1348H1211.700M1196 1348L1211.700 1355M1211.700 1348L1196 1355M1195 1354.800H1280M1195 1358.300H1280M1195 1358V1402M1202.700 1358V1402M1195 1358L1202.700 1402M1202.700 1358L1195 1402M1195 1402H1280M1195 1407.900H1220.700M1195 1402V1408M1220.700 1402V1408"/>
<rect x="1195" y="1408" width="35.700" height="35.300"/><rect x="1195" y="1408" width="7" height="35.300" fill="url(#h)"/><rect x="1224" y="1408" width="7" height="35.300" fill="url(#h)"/>
<path d="M1207.700 1398.600V1440H1215" stroke="#c3c6d0" stroke-width="2.500"/>
<path d="M1187.700 1485.500H1227.400M1491.700 1513H1545"/>
<rect x="1456" y="1265.300" width="119" height="190.100"/>
<path d="M1510 1265.300V1355M1518.300 1265.300V1355M1456 1354.800H1575M1456 1358.300H1575M1456 1402H1575M1456 1407.900H1575M1456 1443.300H1575M1456 1446.800H1575M1479.300 1408V1443M1481.700 1408V1443M1554.300 1408V1443M1556.700 1408V1443M1514 1447V1455M1516.700 1447V1455M1486.700 1450V1484.700M1542.700 1450V1484.700M1483 1479.500H1498M1531 1479.500H1546M1484 1483L1490 1476M1540 1483L1546 1476"/>
<rect x="1511" y="1297.600" width="6.300" height="102.700" rx="3" fill="#252a3d"/>
<path d="M1514 1300V1398" stroke-dasharray="1 6"/>
<rect x="1495" y="1376" width="7.300" height="31" rx="3" fill="url(#d)"/><rect x="1526" y="1376" width="7.300" height="31" rx="3" fill="url(#d)"/>
<path d="M1508.300 1397V1440H1516" stroke="#c3c6d0" stroke-width="2.500"/>
<!-- J -->
<path d="M1935 1057.900H2110M1935 1065H2110M1935 1070.400H2110M1935 1091.800H2013M1935 1097.900H2013M1960 1070.400V1091.800M1965 1070.400V1091.800M1935 1136.400H2013M2013.300 1202V1450.700M2019.300 1202V1450.700M2025 1202V1450.700M2031.700 1070V1450.700M2091.700 1070V1450.700M2098.300 1070V1450.700M2010.700 1450.700H2111.700M2010.700 1456.800H2111.700M2010.700 1450.700V1496.400"/>
<path d="M2019.300 1164.300H2033M2019.300 1189.300H2033M2019.300 1213.900H2033M2019.300 1238.600H2033M2019.300 1263.600H2033M2019.300 1288.200H2033M2019.300 1313.200H2033M2019.300 1337.900H2033M2019.300 1362.500H2033M2019.300 1387.500H2033M2019.300 1412.100H2033M2019.300 1436.800H2033"/>
<path d="M2036 1447.900V1482.900H2042.700" stroke="#c3c6d0" stroke-width="2.500"/>
<rect x="2012" y="1458" width="100" height="38" fill="url(#d)" stroke="none"/>
<path d="M2060 1134.600V1204.300M2055 1131L2064 1138M2055 1201L2064 1207M2043 1136.400H2062M2038 1202.500H2062"/>
<!-- underlines -->
<path d="M823 441H1078M808 843H1064M850 1225.300H1058M716 1570H1013M1295 425H1344M1607 425H1670M1247 464.200H1514M1360.500 1052.300H1758.500M1904 959.300H2187M1904 981.700H2125M1251.700 1535.300H1430.700M1900 1540H2115" stroke-width="1.300"/>
<circle cx="806.700" cy="431.700" r="12.700"/><circle cx="791.700" cy="834" r="12.700"/><circle cx="834" cy="1216.700" r="12.700"/><circle cx="700.700" cy="1559.300" r="12.700"/><circle cx="1227.700" cy="464" r="14"/><circle cx="1335.300" cy="1048.600" r="14"/><circle cx="1890" cy="950" r="12.700"/><circle cx="1232.300" cy="1536.300" r="14"/><circle cx="1874" cy="1542.900" r="16.300"/>
</g>
<!-- straps -->
<g stroke="#e8e22a" stroke-width="1.200">
<rect x="1441.100" y="540.700" width="5.200" height="138.900" rx="2" fill="#b5b32a"/><rect x="1446.300" y="540.700" width="5.200" height="138.900" rx="2" fill="#b5b32a"/>
<rect x="2013.300" y="1058.600" width="5.900" height="143.900" rx="2" fill="#a5a32a"/><rect x="2019.200" y="1058.600" width="5.900" height="143.900" rx="2" fill="#a5a32a"/>
<path d="M1443.700 542V678M1448.900 542V678M2016.200 1060V1201M2022.200 1060V1201" stroke-dasharray="2 3" fill="none"/>
</g>
<!-- leaders -->
<g fill="none" stroke="#dde0e8" stroke-width="1" marker-end="url(#a)">
<path d="M992 118H972L933 143"/><path d="M815 184H866L917 225"/><path d="M863 236H892L917 258"/><path d="M993 224H982L943 207"/><path d="M993 263H975L935 228"/><path d="M997 332H985L967 357"/>
<path d="M998 537H979L939 562"/><path d="M1000 569H987L947 612"/><path d="M819 592H867L921 632"/><path d="M998 609H979L940 633"/><path d="M1002 664H977L955 684"/><path d="M867 644H895L921 665"/><path d="M998 737H980L990 705"/><path d="M1003 804H995L971 773"/>
<path d="M856 973H888L914 1004"/><path d="M1005 973H958L939 1012"/><path d="M856 1021.700H877L883 1030"/><path d="M856 1044H877L923 1062"/><path d="M1005 1047.700H940"/><path d="M856 1065H867L908 1076"/><path d="M827 1120L922 1124"/><path d="M1035 1114H1022L945 1147"/><path d="M1035 1150L953 1167"/>
<path d="M803 1423H813L840 1455"/><path d="M803 1440H810L818 1458"/><path d="M803 1496H823L843 1488"/><path d="M803 1520.700H820L845 1493"/><path d="M900 1434H882L850 1462"/><path d="M900 1496H883L852 1473"/>
<path d="M1376 146.700H1353.500L1321 169.300"/><path d="M1461 146.700H1517.400L1590 191.700"/><path d="M1376 165.700H1358.700L1322 246.700"/><path d="M1481.400 165H1521.300L1583.300 245"/><path d="M1376 200H1365.600L1326.600 253"/><path d="M1468.400 200H1506L1547.800 250"/><path d="M1376 230.700H1367.300L1331.800 268.300"/><path d="M1462 230.700H1490L1534.700 265"/><path d="M1376 256H1366.500L1331.800 300"/><path d="M1464 257.300H1481.400L1534.700 298.300"/><path d="M1376 290.700H1366.500L1327.400 323.300"/><path d="M1471.400 291H1491.400L1553 330"/><path d="M1376 376H1366.500L1318 389.300"/><path d="M1373 405H1362L1347 391.700"/><path d="M1487 405H1496.600L1520.400 376.700"/><path d="M1737.300 203.300H1712.600L1726.400 336"/><path d="M1275.400 220.700H1288.400L1316.600 242.300"/><path d="M1264.600 271H1280.600L1305 266"/><path d="M1280.600 271L1305 281.700"/><path d="M1285.400 306.700L1303 300"/><path d="M1227.700 347H1276.300L1305 361.700"/>
<path d="M1332.300 554.600H1345.300L1440.700 612.900"/><path d="M1510.500 568H1453.700"/><path d="M1297.600 639.600H1382L1421 629"/><path d="M1328 737.900H1367L1395.200 773.600"/><path d="M1367 737.900L1440.700 792"/><path d="M1318 839H1366L1421 889.600"/><path d="M1313.600 922.900H1339.700L1408 902.900"/><path d="M1381.300 970H1394.300L1437.700 912.900"/><path d="M1527.400 980.700H1490.600L1455.900 953.900"/><path d="M1501.400 886H1488.400L1452.400 907.500"/><path d="M1508 665.700H1495L1481 627"/><path d="M1633.700 720H1648.900L1684.900 623.600"/><path d="M1622.800 795H1674.900L1687.900 762.900"/><path d="M1724.800 834.300H1698.700L1683.600 812.900"/><path d="M1739.900 860.400H1713.900"/><path d="M1714 662H1777.600"/>
<path d="M1993.300 724H2016L2080 750"/><path d="M1993.300 749.300H2003.300L2029.300 787.300"/><path d="M1993.300 787.300H2005L2031.700 804"/><path d="M2088.300 781H2066.700L2043.300 793.300"/><path d="M2085 826.700H2071.700L2037.300 845"/><path d="M2085 875.700H2041.700"/>
<path d="M1293.300 1265.300H1282.700L1212.700 1296.300"/><path d="M1364 1266H1434L1509.300 1279.800"/><path d="M1291.700 1305.600H1196"/><path d="M1397.700 1305.600H1510"/><path d="M1291.700 1366.900H1228.300L1196.700 1383"/><path d="M1402.300 1366.900H1453.300L1494.300 1381.300"/><path d="M1291.700 1404.400H1223"/><path d="M1391.700 1404.400H1465"/><path d="M1296.700 1463H1279.300L1210 1415.800"/><path d="M1438.300 1463H1459L1506.700 1421"/>
<path d="M1918.300 1162.500H1957.300L2011.700 1143.600"/><path d="M1933.300 1213.200H1980L2028.300 1263.200"/><path d="M1934 1258.200H1969.300L2012.300 1288.200"/><path d="M1926.700 1436.400H1972.700L2035 1473.900"/>
</g>
<!-- deck dots -->
<g fill="#dde0e8"><circle cx="785" cy="1308.300" r="1"/><circle cx="814.300" cy="1308.300" r="1"/><circle cx="843.700" cy="1308.300" r="1"/><circle cx="873.300" cy="1308.300" r="1"/><circle cx="902.700" cy="1308.300" r="1"/><circle cx="785" cy="1318.700" r="1"/><circle cx="814.300" cy="1318.700" r="1"/><circle cx="843.700" cy="1318.700" r="1"/><circle cx="873.300" cy="1318.700" r="1"/><circle cx="902.700" cy="1318.700" r="1"/><circle cx="785" cy="1329" r="1"/><circle cx="814.300" cy="1329" r="1"/><circle cx="843.700" cy="1329" r="1"/><circle cx="873.300" cy="1329" r="1"/><circle cx="902.700" cy="1329" r="1"/><circle cx="798.300" cy="1313.300" r="1.800"/><circle cx="859" cy="1312.700" r="1.800"/><circle cx="920.700" cy="1312.700" r="1.800"/></g>

<!-- labels A -->
<g font-size="11">
<text x="995" y="121.300" textLength="27.700" lengthAdjust="spacingAndGlyphs">WALL</text>
<text x="995" y="132.700" textLength="47.700" lengthAdjust="spacingAndGlyphs">FRAMING</text>
<text x="998" y="183.300" textLength="37" lengthAdjust="spacingAndGlyphs">FLOOR</text>
<text x="998" y="194.700" textLength="42" lengthAdjust="spacingAndGlyphs">SYSTEM</text>
<text x="732" y="188" textLength="78" lengthAdjust="spacingAndGlyphs">8" SOLID CAP</text>
<text x="733" y="240.700" textLength="126" lengthAdjust="spacingAndGlyphs">8" MASONRY WALL (8"</text>
<text x="733" y="252" textLength="126" lengthAdjust="spacingAndGlyphs">CMU OR 4" BRICK / 4"</text>
<text x="733" y="263.700" textLength="148" lengthAdjust="spacingAndGlyphs">CMU. INSTALL HORIZONTAL</text>
<text x="733" y="275" textLength="145" lengthAdjust="spacingAndGlyphs">REINFORCING (AS REQ'D)</text>
<text x="998" y="227" textLength="76" lengthAdjust="spacingAndGlyphs">2x6 TREATED</text>
<text x="998" y="238.300" textLength="64" lengthAdjust="spacingAndGlyphs">SILL PLATE</text>
<text x="998" y="266.300" textLength="142" lengthAdjust="spacingAndGlyphs">1/2" DIA. (7" EMBEDMENT)</text>
<text x="998" y="277.700" textLength="157" lengthAdjust="spacingAndGlyphs">ANCHOR BOLTS @ 6'-0" OC</text>
<text x="998" y="289" textLength="166" lengthAdjust="spacingAndGlyphs">(ADJUST LOCATION AT DOOR</text>
<text x="998" y="300" textLength="168" lengthAdjust="spacingAndGlyphs">OPENINGS.) LOCATE 12" FROM</text>
<text x="998" y="312" textLength="73" lengthAdjust="spacingAndGlyphs">PLATE ENDS.</text>
<text x="998" y="335.700" textLength="112" lengthAdjust="spacingAndGlyphs">CONCRETE FOOTING</text>
<text x="921" y="394" textLength="23" lengthAdjust="spacingAndGlyphs">1'-4"</text>
<text transform="translate(873 364) rotate(-90)" textLength="10" lengthAdjust="spacingAndGlyphs">8"</text>
<text x="802.500" y="436">A</text>
<text x="825" y="457.700" font-size="13" textLength="132" lengthAdjust="spacingAndGlyphs">(SIDING OR EQUAL)</text>
<text x="825" y="471.700" font-size="13" textLength="307" lengthAdjust="spacingAndGlyphs">NOTE: FOR 3-STORY, FTG WIDTH 1'-6" AND 10"</text>
<text x="825" y="485.700" font-size="13" textLength="45" lengthAdjust="spacingAndGlyphs">DEPTH</text>
<text x="823.300" y="437.700" font-size="22" textLength="255" lengthAdjust="spacingAndGlyphs">CRAWL SPACE FOOTING</text>
<!-- B -->
<text x="1001.700" y="541" textLength="28" lengthAdjust="spacingAndGlyphs">WALL</text>
<text x="1001.700" y="552.300" textLength="48" lengthAdjust="spacingAndGlyphs">FRAMING</text>
<text x="1002.700" y="572.700" textLength="76" lengthAdjust="spacingAndGlyphs">2x6 TREATED</text>
<text x="1003.300" y="584" textLength="63" lengthAdjust="spacingAndGlyphs">SILL PLATE</text>
<text x="735" y="595.700" textLength="80" lengthAdjust="spacingAndGlyphs">8" SOLID CAP</text>
<text x="1002.700" y="612.300" textLength="141" lengthAdjust="spacingAndGlyphs">1/2" DIA. (7" EMBEDMENT)</text>
<text x="1002.700" y="623.700" textLength="157" lengthAdjust="spacingAndGlyphs">ANCHOR BOLTS @ 6'-0" OC</text>
<text x="1002.700" y="635" textLength="166" lengthAdjust="spacingAndGlyphs">(ADJUST LOCATION AT DOOR</text>
<text x="1002.700" y="646.700" textLength="168" lengthAdjust="spacingAndGlyphs">OPENINGS.) LOCATE 12" FROM</text>
<text x="1002.700" y="658" textLength="72" lengthAdjust="spacingAndGlyphs">PLATE ENDS.</text>
<text x="1006.700" y="666.700" textLength="64" lengthAdjust="spacingAndGlyphs">EXPANSION</text>
<text x="1006.700" y="677.700" textLength="29" lengthAdjust="spacingAndGlyphs">JOINT</text>
<text x="737" y="648.300" textLength="125" lengthAdjust="spacingAndGlyphs">8" MASONRY WALL (8"</text>
<text x="737" y="660" textLength="125" lengthAdjust="spacingAndGlyphs">CMU OR 4" BRICK / 4"</text>
<text x="737" y="671.700" textLength="148" lengthAdjust="spacingAndGlyphs">CMU. INSTALL HORIZONTAL</text>
<text x="737" y="682.700" textLength="144" lengthAdjust="spacingAndGlyphs">REINFORCING (AS REQ'D)</text>
<text x="1002.700" y="730" textLength="91" lengthAdjust="spacingAndGlyphs">4" CONC. SLAB w/</text>
<text x="1002.700" y="741.300" textLength="145" lengthAdjust="spacingAndGlyphs">FIBERMESH OR WIREMESH</text>
<text x="1002.700" y="753" textLength="97" lengthAdjust="spacingAndGlyphs">ON 6 MIL VAPOR</text>
<text x="1002.700" y="764.300" textLength="146" lengthAdjust="spacingAndGlyphs">BARRIER ON 4" CRUSHED</text>
<text x="1002.700" y="776" textLength="103" lengthAdjust="spacingAndGlyphs">STONE OR EQUAL.</text>
<text x="1006" y="806.700" textLength="112" lengthAdjust="spacingAndGlyphs">CONCRETE FOOTING</text>
<text x="925" y="801.700" textLength="23" lengthAdjust="spacingAndGlyphs">1'-4"</text>
<text transform="translate(878 772) rotate(-90)" textLength="10" lengthAdjust="spacingAndGlyphs">8"</text>
<text x="787.500" y="838">B</text>
<text x="810.700" y="860" font-size="13" textLength="132" lengthAdjust="spacingAndGlyphs">(SIDING OR EQUAL)</text>
<text x="810.700" y="874" font-size="13" textLength="308" lengthAdjust="spacingAndGlyphs">NOTE: FOR 3-STORY, FTG WIDTH 1'-6" AND 10"</text>
<text x="810.700" y="887.700" font-size="13" textLength="44" lengthAdjust="spacingAndGlyphs">DEPTH</text>
<text x="808.300" y="840" font-size="22" textLength="256" lengthAdjust="spacingAndGlyphs">GARAGE WALL FOOTING</text>
</g>
<!-- C -->
<g font-size="9.500">
<text x="800" y="976" textLength="52" lengthAdjust="spacingAndGlyphs">SUB FLOOR</text>
<text x="1009.300" y="976.700" textLength="91" lengthAdjust="spacingAndGlyphs">OVERLAP JOISTS w/</text>
<text x="1009.300" y="985.300" textLength="102" lengthAdjust="spacingAndGlyphs">BLOCKING IN BETWEEN</text>
<text x="793" y="1026.300" textLength="58" lengthAdjust="spacingAndGlyphs">FLOOR JOIST</text>
<text x="767.700" y="1048.300" textLength="83" lengthAdjust="spacingAndGlyphs">2x6 TREATED SILL</text>
<text x="1009.300" y="1051" textLength="87" lengthAdjust="spacingAndGlyphs">DROPPED GIRDER</text>
<text x="776.700" y="1070.300" textLength="75" lengthAdjust="spacingAndGlyphs">8" SOLID FILLED</text>
<text x="781.700" y="1078.300" textLength="70" lengthAdjust="spacingAndGlyphs">MASONRY CAP,</text>
<text x="776.700" y="1086.700" textLength="75" lengthAdjust="spacingAndGlyphs">(CMU OR BRICK)</text>
<text x="804" y="1123.700" textLength="18" lengthAdjust="spacingAndGlyphs">CMU</text>
<text x="1039.300" y="1117.700" textLength="67" lengthAdjust="spacingAndGlyphs">SEE FND. PLAN</text>
<text x="1039.300" y="1125.700" textLength="65" lengthAdjust="spacingAndGlyphs">FOR PIER SIZE</text>
<text x="1039.300" y="1153.300" textLength="89" lengthAdjust="spacingAndGlyphs">SEE FND. PLAN FOR</text>
<text x="1039.300" y="1162" textLength="60" lengthAdjust="spacingAndGlyphs">FOOTING SIZE</text>
<text transform="translate(891 1103) rotate(-90)" textLength="32" lengthAdjust="spacingAndGlyphs">12" MIN</text>
<text transform="translate(996 1090) rotate(-90)" textLength="32" lengthAdjust="spacingAndGlyphs">24" MIN</text>
<text x="1038.300" y="1235" textLength="16" lengthAdjust="spacingAndGlyphs">NTS</text>
</g>
<text x="830" y="1221" font-size="11">C</text>
<text x="851.700" y="1221.700" font-size="22" textLength="207" lengthAdjust="spacingAndGlyphs">DROPPED GIRDER</text>
<!-- D -->
<g font-size="10">
<text x="766.700" y="1354" textLength="155" lengthAdjust="spacingAndGlyphs">(3) 12d GALV. NAILS @ 6" O.C. AND</text>
<text x="745" y="1365.300" textLength="198" lengthAdjust="spacingAndGlyphs">5/8"dia. GALV. BOLTS W/ WASHER @ 20" O.C.</text>
<text x="769.300" y="1382.700" textLength="152" lengthAdjust="spacingAndGlyphs">FOR BRICK VENEER STRUCTURES:</text>
<text x="746.700" y="1393.700" textLength="197" lengthAdjust="spacingAndGlyphs">5/8"dia. GALV. BOLTS W/ WASHER @ 16" O.C.</text>
<text x="730" y="1427.300" textLength="71" lengthAdjust="spacingAndGlyphs">TREATED BAND</text>
<text x="760.700" y="1445" textLength="40" lengthAdjust="spacingAndGlyphs">DECKING</text>
<text x="760" y="1472.300" textLength="41" lengthAdjust="spacingAndGlyphs">TREATED</text>
<text x="742.700" y="1481.700" textLength="58" lengthAdjust="spacingAndGlyphs">FLOOR JOIST</text>
<text x="758.300" y="1500" textLength="42" lengthAdjust="spacingAndGlyphs">FLASHING</text>
<text x="757.300" y="1509.300" textLength="43" lengthAdjust="spacingAndGlyphs">AS REQ'D</text>
<text x="749.300" y="1525" textLength="51" lengthAdjust="spacingAndGlyphs">SILL PLATE</text>
<text x="701.700" y="1535.700" textLength="99" lengthAdjust="spacingAndGlyphs">(ANCHOR NOT SHOWN)</text>
<text x="903.300" y="1437.700" textLength="74" lengthAdjust="spacingAndGlyphs">BAND MATERIAL</text>
<text x="902.700" y="1475.700" textLength="58" lengthAdjust="spacingAndGlyphs">FLOOR JOIST</text>
<text x="903.300" y="1499" textLength="76" lengthAdjust="spacingAndGlyphs">5/8" GALV. BOLT</text>
<text x="903.300" y="1508.300" textLength="49" lengthAdjust="spacingAndGlyphs">W/ WASHER</text>
<text x="998" y="1580" textLength="16" lengthAdjust="spacingAndGlyphs">NTS</text>
<text transform="translate(820 1486) rotate(-90)" textLength="25" lengthAdjust="spacingAndGlyphs">3" 3"</text>
<text transform="translate(836 1486) rotate(-90)" textLength="25" lengthAdjust="spacingAndGlyphs">MIN</text>
<text x="696.500" y="1563.500" font-size="11">D</text>
<text x="718.300" y="1567.300" font-size="22" textLength="294" lengthAdjust="spacingAndGlyphs">DECK ATTACHMENT DETAIL</text>
</g>
<!-- E -->
<g font-size="9">
<text x="1599.700" y="120" textLength="31" lengthAdjust="spacingAndGlyphs">48" MAX</text>
<text transform="translate(1794 328) rotate(-90)" textLength="31" lengthAdjust="spacingAndGlyphs">48" MAX</text>
<text x="1379.500" y="149.300" textLength="81.500" lengthAdjust="spacingAndGlyphs">2x6 WALL FRAMING</text>
<text x="1379.500" y="168.700" textLength="102" lengthAdjust="spacingAndGlyphs">OPTIONAL WALL PLATE,</text>
<text x="1379.500" y="177.300" textLength="107.500" lengthAdjust="spacingAndGlyphs">MAY COUNTERSINK BOLT</text>
<text x="1379.500" y="186" textLength="88" lengthAdjust="spacingAndGlyphs">IN OPTIONAL PLATE.</text>
<text x="1379.500" y="202.700" textLength="89" lengthAdjust="spacingAndGlyphs">TREATED SILLPLATE</text>
<text x="1379.500" y="234.300" textLength="70" lengthAdjust="spacingAndGlyphs">8" SOLID BRICK</text>
<text x="1379.500" y="243" textLength="19.500" lengthAdjust="spacingAndGlyphs">CAP</text>
<text x="1379.500" y="259" textLength="74.600" lengthAdjust="spacingAndGlyphs">4" BRICK AND 4"</text>
<text x="1379.500" y="267.700" textLength="73" lengthAdjust="spacingAndGlyphs">CMU (OR BRICK)</text>
<text x="1379.500" y="282.300" textLength="87" lengthAdjust="spacingAndGlyphs">⅝" THREADED ROD</text>
<text x="1379.500" y="291" textLength="92" lengthAdjust="spacingAndGlyphs">WITH 2" CUT WASHERS</text>
<text x="1379.500" y="299.700" textLength="93" lengthAdjust="spacingAndGlyphs">OR SIMPSON "SET OR</text>
<text x="1379.500" y="308.300" textLength="74" lengthAdjust="spacingAndGlyphs">SET-XP" EPOXY.</text>
<text x="1379.500" y="378.700" textLength="73" lengthAdjust="spacingAndGlyphs">3" CONC. COVER</text>
<text x="1379.500" y="387" textLength="26" lengthAdjust="spacingAndGlyphs">(TYP)</text>
<text x="1379.500" y="398.700" textLength="87" lengthAdjust="spacingAndGlyphs">CONCRETE FOOTING</text>
<text x="1379.500" y="407.300" textLength="51" lengthAdjust="spacingAndGlyphs">(SEE PLANS) -</text>
<text x="1379.500" y="416" textLength="81" lengthAdjust="spacingAndGlyphs">CONTINUE FOOTING</text>
<text x="1379.500" y="425" textLength="77" lengthAdjust="spacingAndGlyphs">ACROSS GARAGE</text>
<text x="1379.500" y="433.700" textLength="68.500" lengthAdjust="spacingAndGlyphs">DOOR OPENING</text>
<text x="1198" y="223.700" textLength="77" lengthAdjust="spacingAndGlyphs">LOCATE RODS AT</text>
<text x="1198" y="232.300" textLength="75" lengthAdjust="spacingAndGlyphs">ENDS OF PANELS</text>
<text x="1198" y="264.700" textLength="66" lengthAdjust="spacingAndGlyphs">"LADDER" WIRE</text>
<text x="1198" y="273.700" textLength="38" lengthAdjust="spacingAndGlyphs">AT EACH</text>
<text x="1198" y="282.300" textLength="58" lengthAdjust="spacingAndGlyphs">COURSE IN 8"</text>
<text x="1198" y="291.300" textLength="65.500" lengthAdjust="spacingAndGlyphs">CAP AND THEN</text>
<text x="1198" y="300" textLength="25" lengthAdjust="spacingAndGlyphs">8" OC</text>
<text x="1198" y="309" textLength="87" lengthAdjust="spacingAndGlyphs">4" BRICK SHALL BE</text>
<text x="1198" y="318" textLength="84.600" lengthAdjust="spacingAndGlyphs">NOTCHED/CHIPPED</text>
<text x="1198" y="327.300" textLength="79" lengthAdjust="spacingAndGlyphs">TO ALLOW FOR ⅝"</text>
<text x="1198" y="335.700" textLength="20" lengthAdjust="spacingAndGlyphs">ROD</text>
<text x="1198" y="350" textLength="30" lengthAdjust="spacingAndGlyphs">8" CMU</text>
<text x="1740.700" y="206" textLength="64" lengthAdjust="spacingAndGlyphs">GARAGE SLAB</text>
<text x="1740.700" y="214.700" textLength="64" lengthAdjust="spacingAndGlyphs">OVER GRAVEL</text>
<text x="1740.700" y="223.700" textLength="60" lengthAdjust="spacingAndGlyphs">AS SPECIFIED</text>
<text x="1295" y="423.300" font-size="10.500" textLength="49" lengthAdjust="spacingAndGlyphs">SECTION</text>
<text x="1607" y="423.300" font-size="10.500" textLength="63" lengthAdjust="spacingAndGlyphs">ELEVATION</text>
<text x="1223" y="469" font-size="13">E</text>
<text x="1247.200" y="462.300" font-size="13.500" textLength="267" lengthAdjust="spacingAndGlyphs">GARAGE 'WING WALL' REINFORCING</text>
<text x="1247.200" y="473.300" font-size="9.500" textLength="213" lengthAdjust="spacingAndGlyphs">(CODE REFERENCE: IRC FIGURE R602.10.5.3)</text>
</g>
<!-- F -->
<g font-size="9">
<text x="1229" y="558.200" textLength="83" lengthAdjust="spacingAndGlyphs">(2) SIMPSON CS16</text>
<text x="1229" y="568.200" textLength="105" lengthAdjust="spacingAndGlyphs">STRAP WITH 8d NAILS.</text>
<text x="1229" y="577.900" textLength="87" lengthAdjust="spacingAndGlyphs">(EXTEND TO WALL</text>
<text x="1229" y="587.500" textLength="78.500" lengthAdjust="spacingAndGlyphs">TOP PLATE AND</text>
<text x="1229" y="597.500" textLength="93.700" lengthAdjust="spacingAndGlyphs">EXTEND 20" UNDER</text>
<text x="1229" y="607.500" textLength="45.500" lengthAdjust="spacingAndGlyphs">HEADER).</text>
<text x="1229" y="642.100" textLength="57.700" lengthAdjust="spacingAndGlyphs">(2) ROWS OF</text>
<text x="1229" y="651.800" textLength="70" lengthAdjust="spacingAndGlyphs">16d NAILS @ 3"</text>
<text x="1229" y="661.800" textLength="14" lengthAdjust="spacingAndGlyphs">OC</text>
<text x="1229" y="731.800" textLength="70.700" lengthAdjust="spacingAndGlyphs">MIN (2)2X WALL</text>
<text x="1229" y="741.400" textLength="98" lengthAdjust="spacingAndGlyphs">FRAMING.  SEE PLAN</text>
<text x="1229" y="751" textLength="88" lengthAdjust="spacingAndGlyphs">FOR STUD COLUMN</text>
<text x="1229" y="760.700" textLength="73" lengthAdjust="spacingAndGlyphs">REQUIREMENTS.</text>
<text x="1229" y="842.100" textLength="88" lengthAdjust="spacingAndGlyphs">TREATED SILLPLATE</text>
<text x="1227.300" y="918.200" textLength="80" lengthAdjust="spacingAndGlyphs">½" ANCHOR BOLTS</text>
<text x="1229" y="926.100" textLength="76" lengthAdjust="spacingAndGlyphs">PER R403.1.6 WITH</text>
<text x="1229" y="936" textLength="67" lengthAdjust="spacingAndGlyphs">2"x2"x⅜" PLATE</text>
<text x="1229" y="943.200" textLength="40" lengthAdjust="spacingAndGlyphs">WASHERS.</text>
<text x="1229.500" y="956.800" textLength="147" lengthAdjust="spacingAndGlyphs">NOTE: FOR CMU APPLICATIONS AT</text>
<text x="1229.500" y="965.400" textLength="146.600" lengthAdjust="spacingAndGlyphs">GARAGE DOORS, ANCHOR BOLTS</text>
<text x="1229.500" y="974.300" textLength="127.500" lengthAdjust="spacingAndGlyphs">SHALL BE ⅝" DIAMETER AND</text>
<text x="1229.500" y="983.200" textLength="146" lengthAdjust="spacingAndGlyphs">SHALL EXTEND TO FOOTING (PER</text>
<text x="1229.500" y="992.100" textLength="130" lengthAdjust="spacingAndGlyphs">NCRC FIGURE R602.10.5.3 (SEE</text>
<text x="1229.500" y="1000.700" textLength="143" lengthAdjust="spacingAndGlyphs">GARAGE "WING WALL" DETAIL ON</text>
<text x="1229.500" y="1009.300" textLength="90" lengthAdjust="spacingAndGlyphs">STRUCTURAL PLANS)</text>
<text x="1517.900" y="552.900" textLength="130" lengthAdjust="spacingAndGlyphs">NOTE: AT INTERMEDIATE WALL</text>
<text x="1517.900" y="561.800" textLength="86.700" lengthAdjust="spacingAndGlyphs">SEGMENTS BETWEEN</text>
<text x="1517.900" y="570.400" textLength="102" lengthAdjust="spacingAndGlyphs">OPENINGS, THE STRAPS</text>
<text x="1517.900" y="579.300" textLength="127.500" lengthAdjust="spacingAndGlyphs">SHALL BE INSTALLED AT THE</text>
<text x="1517.900" y="587.900" textLength="123.600" lengthAdjust="spacingAndGlyphs">STUD COLUMN ON EACH END</text>
<text x="1517.900" y="596.800" textLength="100.600" lengthAdjust="spacingAndGlyphs">OF THE WALL SEGMENT.</text>
<text x="1510" y="648.900" textLength="110.600" lengthAdjust="spacingAndGlyphs">MIN. 3"x11.25" HEADER. SEE</text>
<text x="1510" y="657.900" textLength="104" lengthAdjust="spacingAndGlyphs">PLAN FOR ACTUAL SIZE.</text>
<text x="1510" y="666.800" textLength="96" lengthAdjust="spacingAndGlyphs">EXTEND OVER PANEL.</text>
<text x="1510" y="709.300" textLength="96" lengthAdjust="spacingAndGlyphs">FASTEN SHEATHING TO</text>
<text x="1510" y="718.200" textLength="105" lengthAdjust="spacingAndGlyphs">HEADER W/ 8d COMMON</text>
<text x="1510" y="726.800" textLength="116" lengthAdjust="spacingAndGlyphs">NAILS IN 3" GRID PATTERN</text>
<text x="1510" y="735.700" textLength="121" lengthAdjust="spacingAndGlyphs">AND 3" O.C. IN ALL FRAMING</text>
<text x="1510" y="744.600" textLength="103" lengthAdjust="spacingAndGlyphs">(STUDS, BLOCKING, AND</text>
<text x="1510" y="753.600" textLength="49" lengthAdjust="spacingAndGlyphs">SILLS) TYP.</text>
<text x="1510" y="778.900" textLength="108" lengthAdjust="spacingAndGlyphs">PANEL EDGES SHALL BE</text>
<text x="1510" y="787.900" textLength="99" lengthAdjust="spacingAndGlyphs">BLOCKED AND OCCUR</text>
<text x="1510" y="796.400" textLength="111.500" lengthAdjust="spacingAndGlyphs">WITHIN 24" OF MID-HEIGHT.</text>
<text x="1510" y="805" textLength="76" lengthAdjust="spacingAndGlyphs">ONE ROW OF TYP.</text>
<text x="1510" y="813.900" textLength="104" lengthAdjust="spacingAndGlyphs">SHEATHING-TO-FRAMING</text>
<text x="1510" y="822.900" textLength="113" lengthAdjust="spacingAndGlyphs">NAILING IS REQ'D (3" O.C.).</text>
<text x="1510" y="831.400" textLength="81.500" lengthAdjust="spacingAndGlyphs">ATTACH BLOCKING</text>
<text x="1510" y="840.400" textLength="90" lengthAdjust="spacingAndGlyphs">TOGETHER W/ (3) 16d</text>
<text x="1510" y="849" textLength="38" lengthAdjust="spacingAndGlyphs">SINKERS.</text>
<text x="1503.600" y="889.600" font-size="8" textLength="65" lengthAdjust="spacingAndGlyphs">OPTIONAL CURB:</text>
<text x="1503.600" y="897.500" font-size="8" textLength="91" lengthAdjust="spacingAndGlyphs">CURB HEIGHT (MAX.): 6"</text>
<text x="1503.600" y="905" font-size="8" textLength="60" lengthAdjust="spacingAndGlyphs">CURB WIDTH: 8"</text>
<text x="1526.600" y="981.400" font-size="8" textLength="88.500" lengthAdjust="spacingAndGlyphs">FOOTING / FOUNDATION</text>
<text x="1526.600" y="988.600" font-size="8" textLength="46" lengthAdjust="spacingAndGlyphs">(SEE PLAN)</text>
<text x="1414.700" y="705.700" textLength="17" lengthAdjust="spacingAndGlyphs">SEE</text>
<text x="1412.500" y="717" textLength="24" lengthAdjust="spacingAndGlyphs">PLAN</text>
<text transform="translate(1353 795) rotate(-90)" textLength="151" lengthAdjust="spacingAndGlyphs">12'-0" MAX TOTAL WALL HEIGHT</text>
<text transform="translate(1467 658) rotate(-90)" textLength="16" lengthAdjust="spacingAndGlyphs">20"</text>
<text transform="translate(1479 773) rotate(-90)" textLength="61" lengthAdjust="spacingAndGlyphs">10'-0" (MAX)</text>
<text x="1727" y="661" textLength="37.700" lengthAdjust="spacingAndGlyphs">2' TO 18'</text>
<text x="1727" y="828.200" textLength="86.700" lengthAdjust="spacingAndGlyphs">MIN ⁷⁄₁₆" THICK WOOD</text>
<text x="1727" y="836.800" textLength="84.600" lengthAdjust="spacingAndGlyphs">STRUCTURAL PANEL</text>
<text x="1727" y="845.400" textLength="45.500" lengthAdjust="spacingAndGlyphs">SHEATHING</text>
<text x="1742" y="863.600" textLength="89" lengthAdjust="spacingAndGlyphs">TREATED SILLPLATE</text>
<text x="1416.800" y="1009.300" font-size="12" textLength="83.700" lengthAdjust="spacingAndGlyphs">INTERIOR VIEW</text>
<text x="1674" y="1009.300" font-size="12" textLength="90" lengthAdjust="spacingAndGlyphs">EXTERIOR VIEW</text>
<text x="1331" y="1053.500" font-size="13">F</text>
<text x="1360.500" y="1050.400" font-size="14" textLength="398" lengthAdjust="spacingAndGlyphs">CS-PF: CONTINUOUS PORTAL FRAME CONSTRUCTION</text>
<text x="1360.500" y="1061" font-size="9.500" textLength="250.700" lengthAdjust="spacingAndGlyphs">DETAIL AND APPLICATION BASED ON NCRC FIGURE</text>
<text x="1360.500" y="1071" font-size="9.500" textLength="205" lengthAdjust="spacingAndGlyphs">R602.10.1 - PORTAL FRAME CONSTRUCTION</text>
</g>
<!-- G -->
<g font-size="10.500">
<text x="1946" y="727.300" textLength="43.300" lengthAdjust="spacingAndGlyphs">RAFTER</text>
<text x="1916.700" y="752.700" textLength="73" lengthAdjust="spacingAndGlyphs">1'-0" MINIMUM</text>
<text x="1934.300" y="762.700" textLength="55" lengthAdjust="spacingAndGlyphs">OVERLAP</text>
<text x="1852.300" y="791" textLength="137" lengthAdjust="spacingAndGlyphs">HURRICANE CONNECTOR</text>
<text x="1844" y="800.700" textLength="144" lengthAdjust="spacingAndGlyphs">SIMPSON H2.5A OR EQUAL</text>
<text x="2092.700" y="785" textLength="78" lengthAdjust="spacingAndGlyphs">(6) 10d NAILS</text>
<text x="2092.700" y="795.300" textLength="58" lengthAdjust="spacingAndGlyphs">AT SPLICE</text>
<text x="2089.300" y="831.300" textLength="56.700" lengthAdjust="spacingAndGlyphs">2x4 STUDS</text>
<text x="2089.300" y="841.700" textLength="52" lengthAdjust="spacingAndGlyphs">@ 16" O.C.</text>
<text x="2089.300" y="879" textLength="83.300" lengthAdjust="spacingAndGlyphs">2x6 BRACE AT</text>
<text x="2089.300" y="888.700" textLength="97.300" lengthAdjust="spacingAndGlyphs">MID WALL HEIGHT</text>
<text x="2089.300" y="898.700" textLength="93.300" lengthAdjust="spacingAndGlyphs">(EITHER SIDE OF</text>
<text x="2089.300" y="907.300" textLength="28" lengthAdjust="spacingAndGlyphs">WALL)</text>
<text x="2099" y="992" font-size="9" textLength="19" lengthAdjust="spacingAndGlyphs">NTS</text>
<text x="1885.500" y="954" font-size="11">G</text>
<text x="1903.300" y="956.700" font-size="22" textLength="273" lengthAdjust="spacingAndGlyphs">TYPICAL RAFTER SPLICE</text>
<text x="1905" y="978.300" font-size="22" textLength="218" lengthAdjust="spacingAndGlyphs">ON ATTIC KNEEWALL</text>
</g>
<!-- HD -->
<g font-size="9.500">
<text x="1335" y="1246.300" textLength="64.300" lengthAdjust="spacingAndGlyphs">SIMPSON SSP</text>
<text x="1298.300" y="1268.400" textLength="65.700" lengthAdjust="spacingAndGlyphs">HD LOCATION</text>
<text x="1298.300" y="1278" textLength="65" lengthAdjust="spacingAndGlyphs">(1) STUD (MIN)</text>
<text x="1294.300" y="1308.700" textLength="103.300" lengthAdjust="spacingAndGlyphs">SIMPSON CS16 STRAP</text>
<text x="1294.300" y="1318.700" textLength="116.300" lengthAdjust="spacingAndGlyphs">(EXTEND TO SILL PLATE</text>
<text x="1294.300" y="1328" textLength="126.300" lengthAdjust="spacingAndGlyphs">AND EXTEND 12" ON STUD)</text>
<text x="1295" y="1370.300" textLength="107.300" lengthAdjust="spacingAndGlyphs">SIMPSON SSP IN EACH</text>
<text x="1295" y="1380.300" textLength="75" lengthAdjust="spacingAndGlyphs">SIDE OF STRAP</text>
<text x="1295" y="1406.500" textLength="96.700" lengthAdjust="spacingAndGlyphs">2x6 TRT SILL PLATE</text>
<text x="1298.300" y="1442.700" textLength="103.300" lengthAdjust="spacingAndGlyphs">LOCATE ½" DIAMETER</text>
<text x="1298.300" y="1453" textLength="105" lengthAdjust="spacingAndGlyphs">ANCHOR BOLT (OR ½"</text>
<text x="1298.300" y="1462" textLength="139" lengthAdjust="spacingAndGlyphs">THREADED ROD EMBEDDED</text>
<text x="1298.300" y="1471.600" textLength="104.300" lengthAdjust="spacingAndGlyphs">5" INTO SOLID FILLED</text>
<text x="1298.300" y="1481.200" textLength="116" lengthAdjust="spacingAndGlyphs">MASONRY WITH SIMPSON</text>
<text x="1298.300" y="1490.900" textLength="135.700" lengthAdjust="spacingAndGlyphs">SET-XP EPOXY (OR EQUAL)</text>
<text x="1298.300" y="1500.500" textLength="136.700" lengthAdjust="spacingAndGlyphs">WITHIN 12" OF CENTERLINE OF</text>
<text x="1298.300" y="1510.500" textLength="60" lengthAdjust="spacingAndGlyphs">CS16 STRAP.</text>
<text x="1187.700" y="1483.600" textLength="39.700" lengthAdjust="spacingAndGlyphs">SECTION</text>
<text x="1509.300" y="1476" textLength="10" lengthAdjust="spacingAndGlyphs">12"</text>
<text x="1499.300" y="1488.800" textLength="30" lengthAdjust="spacingAndGlyphs">C/L OF</text>
<text x="1499.300" y="1499.500" textLength="30" lengthAdjust="spacingAndGlyphs">STRAP</text>
<text x="1491.700" y="1511.200" textLength="53.300" lengthAdjust="spacingAndGlyphs">ELEVATION</text>
<text x="1222.500" y="1540.500" font-size="12">HD</text>
<text x="1251.700" y="1533.600" font-size="14" textLength="179" lengthAdjust="spacingAndGlyphs">'HD' HOLD-DOWN DETAIL</text>
<text x="1251.700" y="1546.700" textLength="117.700" lengthAdjust="spacingAndGlyphs">(OVER WOOD FLOOR)</text>
<text x="1251.700" y="1564.600" textLength="233.300" lengthAdjust="spacingAndGlyphs">NOTE: ALTERNATE HD HOLD-DOWN DEVICES OR</text>
<text x="1251.700" y="1574.600" textLength="266" lengthAdjust="spacingAndGlyphs">SYSTEMS MAY BE USED TO MEET THE CODE REQUIRED</text>
<text x="1251.700" y="1584.200" textLength="244.300" lengthAdjust="spacingAndGlyphs">800 LB CAPACITY IN LIEU OF THE ABOVE DETAIL.</text>
</g>
<!-- J -->
<g font-size="10.500">
<text x="1791.700" y="1142.500" textLength="96.700" lengthAdjust="spacingAndGlyphs">(2) SIMPSON CS16</text>
<text x="1791.700" y="1154.300" textLength="123.300" lengthAdjust="spacingAndGlyphs">STRAP WITH 8d NAILS.</text>
<text x="1791.700" y="1165.700" textLength="100.700" lengthAdjust="spacingAndGlyphs">(EXTEND TO WALL</text>
<text x="1791.700" y="1177.500" textLength="91.700" lengthAdjust="spacingAndGlyphs">TOP PLATE AND</text>
<text x="1791.700" y="1188.900" textLength="110" lengthAdjust="spacingAndGlyphs">EXTEND 20" UNDER</text>
<text x="1791.700" y="1200" textLength="53.300" lengthAdjust="spacingAndGlyphs">HEADER).</text>
<text x="1822.300" y="1211.400" textLength="106" lengthAdjust="spacingAndGlyphs">ATTACH KING STUD</text>
<text x="1822.300" y="1223.200" textLength="110" lengthAdjust="spacingAndGlyphs">TO SUPPORT STUDS</text>
<text x="1822.300" y="1234.600" textLength="111.700" lengthAdjust="spacingAndGlyphs">WITH 10d NAILS @ 8"</text>
<text x="1822.300" y="1246.400" textLength="17.700" lengthAdjust="spacingAndGlyphs">OC.</text>
<text x="1806.700" y="1262.900" textLength="106.700" lengthAdjust="spacingAndGlyphs">MIN (2)2X SUPPORT</text>
<text x="1806.700" y="1274.600" textLength="109.300" lengthAdjust="spacingAndGlyphs">STUDS AND (1) KING</text>
<text x="1806.700" y="1286.400" textLength="120" lengthAdjust="spacingAndGlyphs">STUD (SEE PLAN FOR</text>
<text x="1806.700" y="1297.900" textLength="76.700" lengthAdjust="spacingAndGlyphs">STUD COLUMN</text>
<text x="1806.700" y="1309.300" textLength="90" lengthAdjust="spacingAndGlyphs">REQUIREMENTS).</text>
<text x="1821.700" y="1440" textLength="93.300" lengthAdjust="spacingAndGlyphs">½" ANCHOR BOLTS</text>
<text x="1821.700" y="1450" textLength="91.700" lengthAdjust="spacingAndGlyphs">PER R403.1.6 WITH</text>
<text x="1821.700" y="1461.400" textLength="80.700" lengthAdjust="spacingAndGlyphs">2"x2"x⅜" PLATE</text>
<text x="1821.700" y="1470.300" textLength="48.300" lengthAdjust="spacingAndGlyphs">WASHERS.</text>
<text transform="translate(2058 1178) rotate(-90)" textLength="16" lengthAdjust="spacingAndGlyphs">20"</text>
<text x="1870" y="1548" font-size="14">J</text>
<text x="1900" y="1538" font-size="15.500" textLength="213" lengthAdjust="spacingAndGlyphs">END CONDITION DETAIL</text>
<text x="1900" y="1551.300" textLength="234" lengthAdjust="spacingAndGlyphs">(FOR USE WITH SINGLE CS-PF CONDITION)</text>
<text x="1900" y="1562.700" textLength="215" lengthAdjust="spacingAndGlyphs">DETAIL AND APPLICATION BASED ON</text>
<text x="1900" y="1574.100" textLength="230.700" lengthAdjust="spacingAndGlyphs">NCRC FIGURE R602.10.1 - PORTAL FRAME</text>
<text x="1900" y="1585.200" textLength="84" lengthAdjust="spacingAndGlyphs">CONSTRUCTION</text>
</g>
</svg>
</body></html>
